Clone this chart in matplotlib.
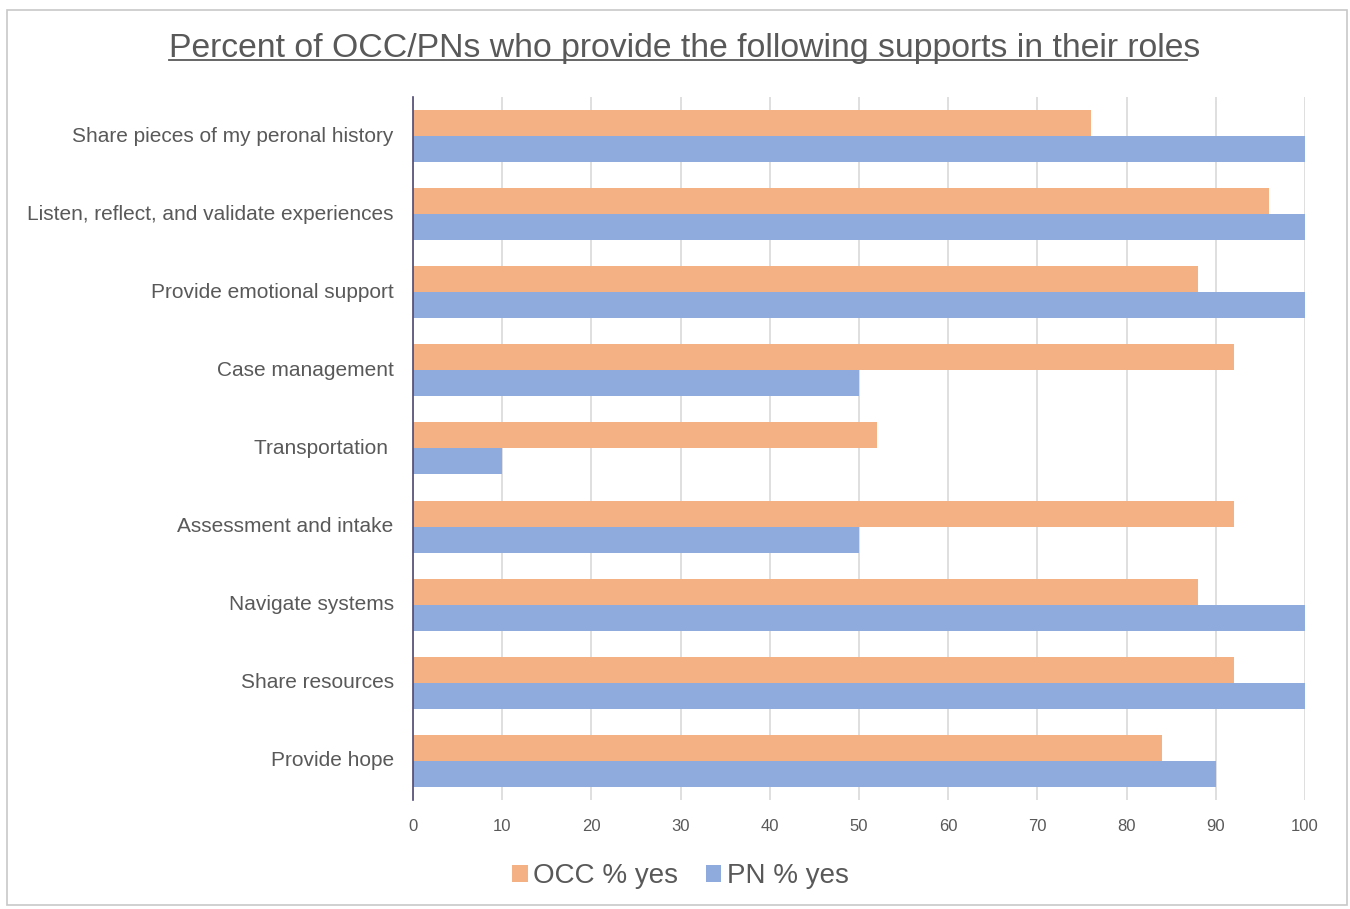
import numpy as np
import matplotlib
matplotlib.use("Agg")
from matplotlib import pyplot as plt
from matplotlib.lines import Line2D
from matplotlib.patches import Rectangle

categories = [
    "Share pieces of my peronal history",
    "Listen, reflect, and validate experiences",
    "Provide emotional support",
    "Case management",
    "Transportation ",
    "Assessment and intake",
    "Navigate systems",
    "Share resources",
    "Provide hope",
]
occ_yes = [76, 96, 88, 92, 52, 92, 88, 92, 84]
pn_yes = [100, 100, 100, 50, 10, 50, 100, 100, 90]
x_ticks = list(range(0, 101, 10))

ORANGE = "#F4B183"
BLUE = "#8FAADC"
TEXT = "#595959"

plt.rcParams["font.family"] = ["Liberation Sans", "DejaVu Sans"]

fig = plt.figure(figsize=(13.5, 9.09), dpi=100)
ax = fig.add_axes([0.306, 0.12, 0.6607, 0.7733])

y = np.arange(len(categories))
h = 0.333
ax.barh(y - h / 2, occ_yes, height=h, color=ORANGE, label="OCC % yes", zorder=3)
ax.barh(y + h / 2, pn_yes, height=h, color=BLUE, label="PN % yes", zorder=3)

ax.set_xlim(0, 100)
ax.set_ylim(len(categories) - 0.5, -0.5)
ax.set_xticks(x_ticks)
ax.set_yticks(y)
ax.set_yticklabels(categories, fontsize=15, color=TEXT, va="bottom")
ax.tick_params(axis="x", labelsize=12, labelcolor=TEXT, length=0, pad=14)
ax.tick_params(axis="y", length=0, pad=14)
for t in ax.get_yticklabels():
    t.set_va("center")
    t.set_y(t.get_position()[1])
ax.grid(axis="x", color="#d9d9d9", linewidth=1.2, zorder=0)
for s in ["top", "right", "bottom"]:
    ax.spines[s].set_visible(False)
ax.spines["left"].set_color("#4f4872")
ax.spines["left"].set_linewidth(1.2)
ax.spines["left"].set_zorder(4)

leg = fig.legend(loc="center", bbox_to_anchor=(0.504, 0.036), ncol=2, frameon=False,
                 fontsize=20, handlelength=0.55, handleheight=0.55, handletextpad=0.2,
                 columnspacing=1.0)
for t in leg.get_texts():
    t.set_color(TEXT)

title = fig.text(0.507, 0.947, "Percent of OCC/PNs who provide the following supports in their roles",
                 ha="center", va="center", fontsize=24.3, color=TEXT)

# underline under the title
fig.canvas.draw()
bb = title.get_window_extent().transformed(fig.transFigure.inverted())
fig.add_artist(Line2D([bb.x0, bb.x1 - 0.01], [bb.y0 + 0.004, bb.y0 + 0.004],
                      transform=fig.transFigure, color=TEXT, linewidth=1.3))

# chart border
fig.add_artist(Rectangle((0.005, 0.004), 0.993, 0.985, transform=fig.transFigure,
                         fill=False, edgecolor="#c8c8c8", linewidth=1.2))

fig.savefig("out.png", dpi=100)
